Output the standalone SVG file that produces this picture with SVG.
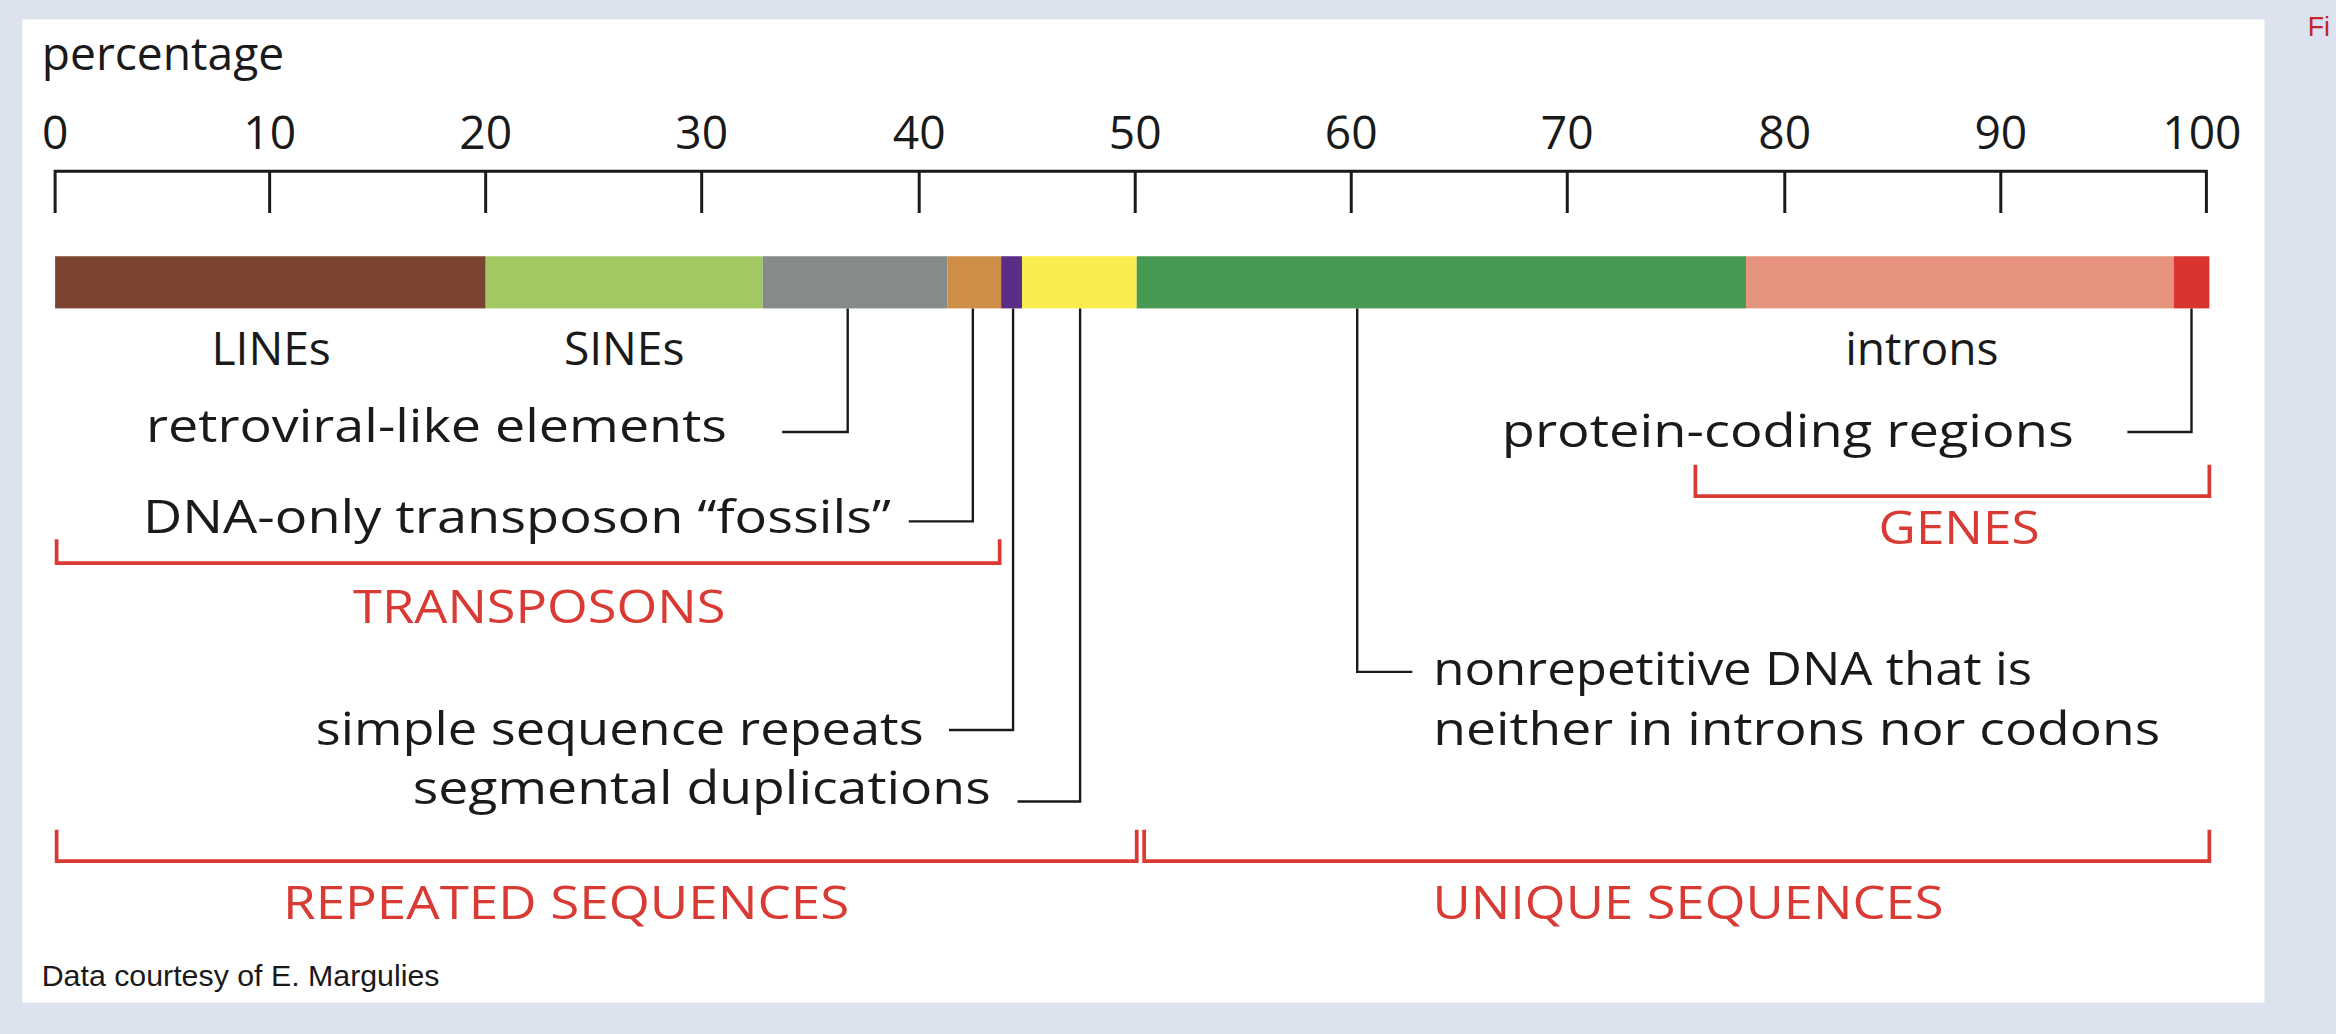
<svg xmlns="http://www.w3.org/2000/svg" width="2336" height="1034" viewBox="0 0 2336 1034">
<style>
.t{font-family:"Open Sans","Liberation Sans",sans-serif;font-size:31px;fill:#1a1a1a}
.r{font-family:"Open Sans","Liberation Sans",sans-serif;font-size:31px;fill:#d93a34}
.ax{stroke:#1a1a1a;stroke-width:2;fill:none}
.ln{stroke:#1a1a1a;stroke-width:1.6;fill:none}
.br{stroke:#d93a34;stroke-width:2.5;fill:none}
</style>
<rect width="2336" height="1034" fill="#dce3ee"/>
<g transform="scale(1.4898)">
<rect x="15" y="13" width="1505" height="660" fill="#fff"/>
<text x="1549" y="24" font-family="Liberation Sans,sans-serif" font-size="18" fill="#c0282a">Fi</text>
<g id="axis">
<text class="t" x="28" y="47">percentage</text>
<path class="ax" d="M37 143V115H1481V143M181 115V143M326 115V143M471 115V143M617 115V143M762 115V143M907 115V143M1052 115V143M1198 115V143M1343 115V143"/>
<g class="t" text-anchor="middle">
<text x="37" y="100">0</text><text x="181" y="100">10</text><text x="326" y="100">20</text><text x="471" y="100">30</text><text x="617" y="100">40</text><text x="762" y="100">50</text><text x="907" y="100">60</text><text x="1052" y="100">70</text><text x="1198" y="100">80</text><text x="1343" y="100">90</text><text x="1478" y="100">100</text>
</g>
</g>
<g id="bar">
<rect x="37" y="172" width="289" height="35" fill="#7b4431"/>
<rect x="326" y="172" width="186" height="35" fill="#a2c864"/>
<rect x="512" y="172" width="124" height="35" fill="#868a88"/>
<rect x="636" y="172" width="36" height="35" fill="#cf8e47"/>
<rect x="672" y="172" width="14" height="35" fill="#5a2d86"/>
<rect x="686" y="172" width="77" height="35" fill="#f9ec50"/>
<rect x="763" y="172" width="409" height="35" fill="#469a52"/>
<rect x="1172" y="172" width="287" height="35" fill="#e5937c"/>
<rect x="1459" y="172" width="24" height="35" fill="#d9342f"/>
</g>
<g id="connectors">
<path class="ln" d="M569 207V290H525"/>
<path class="ln" d="M653 207V350H610"/>
<path class="ln" d="M680 207V490H637"/>
<path class="ln" d="M725 207V538H683"/>
<path class="ln" d="M911 207V451H948"/>
<path class="ln" d="M1471 207V290H1428"/>
</g>
<g id="brackets">
<path class="br" d="M38 362V378H671V362"/>
<path class="br" d="M38 557V578H763V557"/>
<path class="br" d="M768 557V578H1483V557"/>
<path class="br" d="M1138 312V333H1483V312"/>
</g>
<g id="labels">
<text class="t" x="182" y="245" text-anchor="middle">LINEs</text>
<text class="t" x="419" y="245" text-anchor="middle">SINEs</text>
<text class="t" x="1290" y="245" text-anchor="middle">introns</text>
<text class="t" x="98" y="297" textLength="390" lengthAdjust="spacingAndGlyphs">retroviral-like elements</text>
<text class="t" x="96" y="358" textLength="502" lengthAdjust="spacingAndGlyphs">DNA-only transposon “fossils”</text>
<text class="t" x="212" y="500" textLength="408" lengthAdjust="spacingAndGlyphs">simple sequence repeats</text>
<text class="t" x="277" y="540" textLength="388" lengthAdjust="spacingAndGlyphs">segmental duplications</text>
<text class="t" x="1008" y="300" textLength="384" lengthAdjust="spacingAndGlyphs">protein-coding regions</text>
<text class="t" x="962" y="460" textLength="402" lengthAdjust="spacingAndGlyphs">nonrepetitive DNA that is</text>
<text class="t" x="962" y="500" textLength="488" lengthAdjust="spacingAndGlyphs">neither in introns nor codons</text>
<text class="r" x="362" y="418" text-anchor="middle" textLength="250" lengthAdjust="spacingAndGlyphs">TRANSPOSONS</text>
<text class="r" x="1315" y="365" text-anchor="middle" textLength="108" lengthAdjust="spacingAndGlyphs">GENES</text>
<text class="r" x="380" y="617" text-anchor="middle" textLength="380" lengthAdjust="spacingAndGlyphs">REPEATED SEQUENCES</text>
<text class="r" x="1133" y="617" text-anchor="middle" textLength="343" lengthAdjust="spacingAndGlyphs">UNIQUE SEQUENCES</text>
<text x="28" y="662" font-family="Liberation Sans Narrow,Liberation Sans,sans-serif" font-size="20" fill="#1a1a1a" textLength="267" lengthAdjust="spacingAndGlyphs">Data courtesy of E. Margulies</text>
</g>
</g>
</svg>
